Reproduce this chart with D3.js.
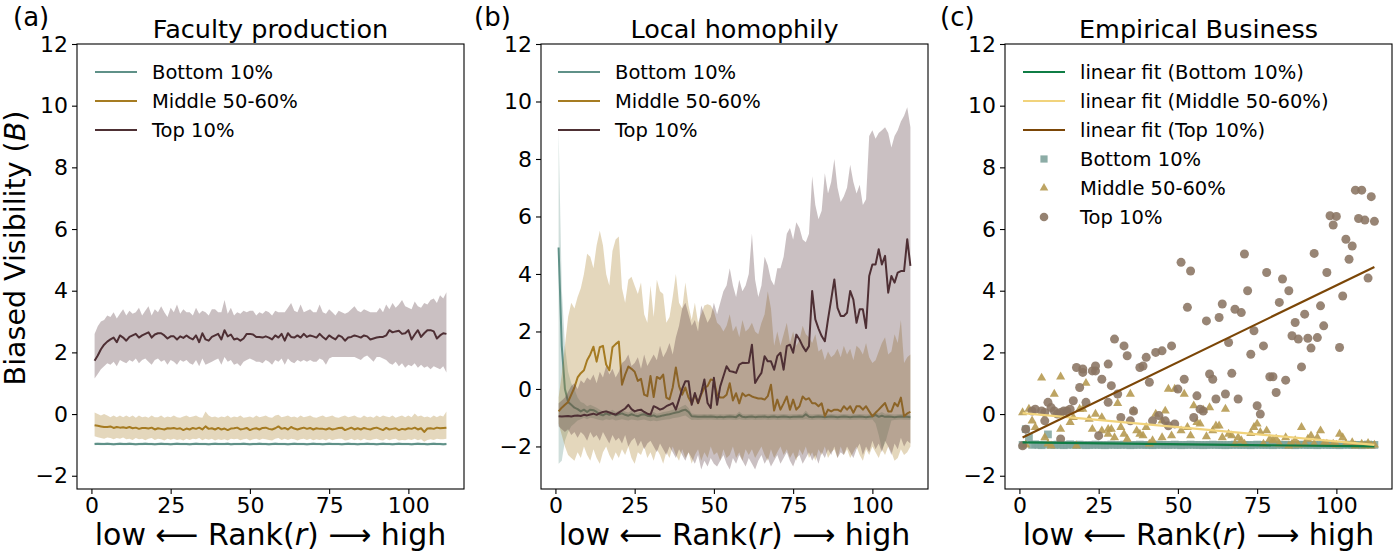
<!DOCTYPE html>
<html><head><meta charset="utf-8">
<script src="https://cdnjs.cloudflare.com/ajax/libs/d3/7.8.5/d3.min.js"></script>
<style>body{margin:0;background:#fff} svg{display:block} text{font-family:"DejaVu Sans",sans-serif;fill:#000}</style>
</head><body><svg id="chart" width="1394" height="555"></svg>
<script>
// ---------- DATA (x = rank 1..112) ----------
const xTicks = [0, 25, 50, 75, 100];
const yTicks = [-2, 0, 2, 4, 6, 8, 10, 12];
const seriesNames = ["Bottom 10%", "Middle 50-60%", "Top 10%"];
const fitNames = ["linear fit (Bottom 10%)", "linear fit (Middle 50-60%)", "linear fit (Top 10%)"];

// Panel (a) Faculty production
const aTopM = [1.73,1.90,2.10,2.25,2.35,2.42,2.48,2.33,2.55,2.48,
 2.38,2.50,2.55,2.60,2.48,2.55,2.60,2.65,2.48,2.58,
 2.62,2.62,2.55,2.45,2.52,2.52,2.42,2.52,2.47,2.55,
 2.47,2.42,2.55,2.33,2.62,2.42,2.38,2.50,2.55,2.60,
 2.42,2.72,2.52,2.58,2.42,2.45,2.38,2.45,2.60,2.60,
 2.58,2.50,2.50,2.48,2.52,2.48,2.42,2.55,2.48,2.60,
 2.38,2.62,2.50,2.48,2.55,2.48,2.60,2.50,2.55,2.52,
 2.48,2.60,2.50,2.42,2.55,2.48,2.42,2.55,2.50,2.38,
 2.48,2.50,2.55,2.52,2.48,2.55,2.52,2.42,2.45,2.48,
 2.50,2.50,2.55,2.72,2.65,2.68,2.70,2.60,2.62,2.72,
 2.42,2.58,2.72,2.50,2.62,2.72,2.72,2.68,2.45,2.55,
 2.62,2.60];
const aTopH = [2.60,2.85,3.00,3.05,3.20,3.15,3.30,3.10,3.25,3.40,
 3.20,3.35,3.25,3.30,3.45,3.20,3.35,3.50,3.20,3.40,
 3.30,3.50,3.30,3.15,3.45,3.30,3.55,3.25,3.40,3.30,
 3.30,3.20,3.45,3.25,3.35,3.30,3.20,3.40,3.40,3.30,
 3.30,3.70,3.25,3.45,3.20,3.30,3.25,3.35,3.30,3.35,
 3.35,3.20,3.30,3.25,3.35,3.30,3.20,3.35,3.30,3.30,
 3.30,3.45,3.60,3.35,3.30,3.55,3.30,3.35,3.40,3.30,
 3.30,3.55,3.30,3.25,3.40,3.30,3.20,3.35,3.30,3.25,
 3.30,3.40,3.50,3.35,3.30,3.40,3.35,3.30,3.30,3.30,
 3.45,3.30,3.55,3.40,3.60,3.45,3.55,3.70,3.50,3.45,
 3.40,3.65,3.50,3.45,3.60,3.55,3.70,3.75,3.60,3.85,
 3.75,3.95];
const aTopL = [1.15,1.30,1.45,1.55,1.65,1.60,1.70,1.55,1.75,1.70,
 1.65,1.75,1.70,1.80,1.65,1.75,1.80,1.70,1.60,1.75,
 1.80,1.70,1.75,1.60,1.75,1.70,1.60,1.75,1.70,1.75,
 1.65,1.60,1.75,1.55,1.80,1.60,1.65,1.70,1.75,1.80,
 1.60,1.85,1.70,1.75,1.60,1.65,1.55,1.70,1.75,1.80,
 1.75,1.70,1.70,1.65,1.75,1.70,1.60,1.75,1.70,1.80,
 1.60,1.80,1.70,1.65,1.75,1.70,1.75,1.70,1.75,1.70,
 1.70,1.80,1.75,1.60,1.80,1.85,1.85,1.85,1.85,1.85,
 1.85,1.85,1.85,1.80,1.75,1.85,1.90,1.80,1.70,1.85,
 1.85,1.80,1.75,1.65,1.60,1.70,1.55,1.65,1.50,1.60,
 1.55,1.65,1.50,1.60,1.50,1.55,1.45,1.55,1.50,1.45,
 1.55,1.35];
const aMidM = [-0.36,-0.38,-0.40,-0.42,-0.42,-0.40,-0.45,-0.42,-0.44,-0.43,
 -0.45,-0.42,-0.46,-0.44,-0.48,-0.45,-0.45,-0.47,-0.44,-0.50,
 -0.46,-0.48,-0.50,-0.46,-0.47,-0.45,-0.48,-0.46,-0.52,-0.47,
 -0.50,-0.45,-0.48,-0.44,-0.50,-0.40,-0.48,-0.46,-0.50,-0.45,
 -0.50,-0.47,-0.52,-0.47,-0.46,-0.44,-0.50,-0.48,-0.45,-0.52,
 -0.48,-0.46,-0.50,-0.45,-0.44,-0.48,-0.50,-0.46,-0.40,-0.48,
 -0.45,-0.50,-0.42,-0.47,-0.50,-0.47,-0.44,-0.48,-0.45,-0.50,
 -0.46,-0.48,-0.48,-0.50,-0.46,-0.50,-0.48,-0.45,-0.44,-0.52,
 -0.48,-0.44,-0.50,-0.46,-0.50,-0.45,-0.48,-0.50,-0.46,-0.44,
 -0.48,-0.52,-0.45,-0.50,-0.48,-0.46,-0.52,-0.48,-0.50,-0.46,
 -0.48,-0.44,-0.50,-0.46,-0.58,-0.47,-0.46,-0.48,-0.44,-0.46,
 -0.45,-0.44];
const aMidH = [0.05,0.00,-0.05,0.00,-0.05,-0.10,-0.05,-0.10,-0.05,-0.10,
 -0.05,-0.10,-0.05,-0.12,-0.05,-0.10,-0.08,-0.12,-0.05,-0.10,
 -0.10,-0.05,-0.12,-0.08,-0.10,-0.05,-0.10,-0.12,-0.08,-0.05,
 -0.10,-0.08,-0.05,-0.10,-0.12,0.08,-0.05,-0.10,-0.08,-0.12,
 -0.08,-0.10,-0.05,-0.12,-0.08,-0.10,-0.05,-0.12,-0.10,-0.08,
 -0.12,-0.05,-0.10,-0.08,-0.05,-0.10,-0.12,-0.05,-0.02,-0.10,
 -0.08,-0.05,-0.10,-0.08,-0.12,-0.05,-0.10,-0.08,-0.05,-0.10,
 -0.12,-0.08,-0.05,-0.10,-0.08,-0.05,-0.10,-0.12,-0.08,-0.05,
 -0.10,-0.08,-0.05,-0.10,-0.12,-0.05,-0.10,-0.08,-0.12,-0.05,
 -0.10,-0.05,-0.08,-0.10,-0.05,-0.12,-0.08,-0.05,-0.10,-0.05,
 -0.10,0.02,-0.08,-0.05,-0.10,-0.08,-0.12,-0.05,-0.10,-0.05,
 -0.08,0.08];
const aMidL = [-0.72,-0.75,-0.78,-0.80,-0.76,-0.78,-0.82,-0.78,-0.80,-0.76,
 -0.82,-0.80,-0.84,-0.78,-0.82,-0.80,-0.85,-0.80,-0.78,-0.84,
 -0.80,-0.82,-0.86,-0.80,-0.83,-0.80,-0.84,-0.82,-0.86,-0.80,
 -0.84,-0.80,-0.82,-0.78,-0.85,-0.80,-0.83,-0.80,-0.86,-0.82,
 -0.84,-0.82,-0.86,-0.80,-0.82,-0.80,-0.85,-0.82,-0.80,-0.86,
 -0.82,-0.80,-0.84,-0.80,-0.82,-0.84,-0.86,-0.80,-0.78,-0.84,
 -0.80,-0.84,-0.80,-0.82,-0.86,-0.82,-0.80,-0.84,-0.80,-0.85,
 -0.82,-0.84,-0.82,-0.86,-0.80,-0.85,-0.82,-0.80,-0.80,-0.86,
 -0.84,-0.80,-0.85,-0.82,-0.86,-0.80,-0.84,-0.85,-0.82,-0.80,
 -0.84,-0.86,-0.80,-0.85,-0.82,-0.80,-0.86,-0.84,-0.85,-0.82,
 -0.84,-0.80,-0.85,-0.82,-0.90,-0.84,-0.82,-0.84,-0.80,-0.82,
 -0.82,-0.80];
const aBotM = [-0.97,-0.96,-0.97,-0.97,-0.96,-0.97,-0.98,-0.97,-0.96,-0.97,
 -0.97,-0.96,-0.97,-0.98,-0.97,-0.97,-0.96,-0.97,-0.97,-0.98,
 -0.97,-0.96,-0.97,-0.97,-0.98,-0.97,-0.96,-0.97,-0.97,-0.97,
 -0.98,-0.97,-0.96,-0.97,-0.97,-0.97,-0.98,-0.97,-0.96,-0.97,
 -0.97,-0.97,-0.96,-0.98,-0.97,-0.97,-0.97,-0.96,-0.97,-0.98,
 -0.97,-0.97,-0.96,-0.97,-0.97,-0.98,-0.97,-0.96,-0.97,-0.97,
 -0.97,-0.98,-0.97,-0.96,-0.97,-0.97,-0.97,-0.98,-0.97,-0.96,
 -0.97,-0.97,-0.98,-0.97,-0.96,-0.97,-0.97,-0.97,-0.98,-0.97,
 -0.96,-0.97,-0.97,-0.98,-0.97,-0.97,-0.96,-0.97,-0.97,-0.98,
 -0.97,-0.96,-0.97,-0.97,-0.98,-0.97,-0.96,-0.97,-0.97,-0.97,
 -0.98,-0.97,-0.96,-0.97,-0.97,-0.98,-0.97,-0.96,-0.97,-0.97,
 -0.98,-0.97];
const aBotH = [-0.92,-0.93,-0.92,-0.93,-0.92,-0.93,-0.94,-0.93,-0.92,-0.93,
 -0.93,-0.92,-0.93,-0.94,-0.93,-0.92,-0.92,-0.93,-0.93,-0.94,
 -0.93,-0.92,-0.93,-0.93,-0.94,-0.93,-0.92,-0.93,-0.93,-0.93,
 -0.94,-0.93,-0.92,-0.93,-0.93,-0.93,-0.94,-0.93,-0.92,-0.93,
 -0.93,-0.93,-0.92,-0.94,-0.93,-0.93,-0.93,-0.92,-0.93,-0.94,
 -0.93,-0.93,-0.92,-0.93,-0.93,-0.94,-0.93,-0.92,-0.93,-0.93,
 -0.93,-0.94,-0.93,-0.92,-0.93,-0.93,-0.93,-0.94,-0.93,-0.92,
 -0.93,-0.93,-0.94,-0.93,-0.92,-0.93,-0.93,-0.93,-0.94,-0.93,
 -0.92,-0.93,-0.93,-0.94,-0.93,-0.93,-0.92,-0.93,-0.93,-0.94,
 -0.93,-0.92,-0.93,-0.93,-0.94,-0.93,-0.92,-0.93,-0.93,-0.93,
 -0.94,-0.93,-0.92,-0.93,-0.93,-0.94,-0.93,-0.92,-0.93,-0.93,
 -0.94,-0.93];
const aBotL = [-1.01,-1.00,-1.01,-1.01,-1.00,-1.01,-1.02,-1.01,-1.00,-1.01,
 -1.01,-1.00,-1.01,-1.02,-1.01,-1.01,-1.00,-1.01,-1.01,-1.02,
 -1.01,-1.00,-1.01,-1.01,-1.02,-1.01,-1.00,-1.01,-1.01,-1.01,
 -1.02,-1.01,-1.00,-1.01,-1.01,-1.01,-1.02,-1.01,-1.00,-1.01,
 -1.01,-1.01,-1.00,-1.02,-1.01,-1.01,-1.01,-1.00,-1.01,-1.02,
 -1.01,-1.01,-1.00,-1.01,-1.01,-1.02,-1.01,-1.00,-1.01,-1.01,
 -1.01,-1.02,-1.01,-1.00,-1.01,-1.01,-1.01,-1.02,-1.01,-1.00,
 -1.01,-1.01,-1.02,-1.01,-1.00,-1.01,-1.01,-1.01,-1.02,-1.01,
 -1.00,-1.01,-1.01,-1.02,-1.01,-1.01,-1.00,-1.01,-1.01,-1.02,
 -1.01,-1.00,-1.01,-1.01,-1.02,-1.01,-1.00,-1.01,-1.01,-1.01,
 -1.02,-1.01,-1.00,-1.01,-1.01,-1.02,-1.01,-1.00,-1.01,-1.01,
 -1.02,-1.01];

// Panel (b) Local homophily
const bTopM = [-0.95,-0.96,-0.95,-0.94,-0.96,-0.93,-0.92,-0.94,-0.90,-0.92,
 -0.89,-0.86,-0.90,-0.84,-0.80,-0.78,-0.82,-0.86,-0.89,-0.82,
 -0.75,-0.68,-0.55,-0.70,-0.78,-0.74,-0.72,-0.80,-0.86,-0.89,
 -0.60,-0.65,-0.72,-0.68,-0.60,-0.55,-0.49,-0.72,-0.37,0.00,
 0.27,0.27,-0.55,-0.14,-0.49,-0.14,0.33,-0.49,-0.66,0.39,
 -0.55,0.09,0.44,0.79,0.62,0.60,0.56,0.85,0.91,0.90,
 0.91,1.54,0.21,0.40,0.56,1.14,0.96,0.96,0.67,1.14,
 1.26,0.67,1.49,1.54,1.26,1.89,1.72,1.49,1.31,1.49,
 3.41,2.42,2.10,1.84,1.66,2.42,3.11,3.81,2.82,2.54,
 2.54,2.65,3.41,3.11,2.30,2.77,2.77,2.12,3.93,4.33,
 4.33,4.86,4.33,4.63,3.35,3.93,3.70,4.05,4.10,4.10,
 5.21,4.28];
const bTopH = [-0.5,-0.4,-0.3,-0.1,0.1,0.2,0.0,0.3,0.2,0.4,
 0.3,0.5,0.2,0.6,0.4,0.8,0.5,0.7,0.4,0.6,
 0.9,1.0,1.2,0.8,0.9,1.1,0.7,1.2,0.8,1.0,
 1.2,1.0,1.5,1.1,1.3,1.6,1.2,1.8,2.2,2.8,
 3.0,2.6,2.2,2.4,2.0,2.9,2.6,2.3,2.5,3.0,
 2.6,3.0,3.4,3.6,4.2,3.6,3.2,3.8,3.4,3.6,
 4.0,5.4,3.8,3.2,3.6,4.6,4.3,3.8,3.6,4.2,
 4.2,4.6,5.4,5.6,5.2,5.8,5.6,5.2,5.1,5.4,
 7.4,6.4,5.9,6.2,7.5,6.8,7.2,8.0,7.0,6.5,
 6.7,7.0,7.8,7.2,6.8,7.1,6.4,6.6,8.8,9.0,
 8.7,8.9,9.0,9.1,8.9,8.4,8.8,9.0,9.3,9.5,
 9.8,9.1];
const bTopL = [-1.3,-1.4,-1.5,-1.4,-1.6,-1.5,-1.7,-1.5,-1.6,-1.8,
 -1.5,-1.7,-1.6,-1.8,-1.5,-1.7,-1.9,-1.6,-1.8,-1.7,
 -1.9,-1.6,-2.0,-1.8,-1.7,-2.0,-1.8,-2.1,-1.9,-1.8,
 -2.0,-2.2,-1.9,-2.1,-2.3,-2.0,-2.2,-2.4,-2.1,-2.3,
 -2.5,-2.2,-2.4,-2.6,-2.3,-2.8,-2.5,-2.7,-2.4,-2.6,
 -2.7,-2.5,-2.3,-2.6,-2.8,-2.4,-2.6,-2.3,-2.5,-2.7,
 -2.4,-2.6,-2.8,-2.5,-2.3,-2.6,-2.4,-2.7,-2.5,-2.3,
 -2.6,-2.4,-2.2,-2.5,-2.7,-2.4,-2.3,-2.6,-2.4,-2.2,
 -2.5,-2.3,-2.6,-2.2,-2.4,-2.1,-2.3,-2.0,-2.4,-2.2,
 -2.3,-2.0,-2.2,-2.4,-2.1,-1.9,-2.3,-2.0,-2.2,-1.8,
 -2.1,-1.9,-2.2,-1.8,-2.0,-2.3,-1.9,-2.1,-1.7,-2.0,
 -1.8,-1.9];
const bMidM = [-0.78,-0.65,-0.55,-0.45,-0.20,0.05,0.40,0.55,0.65,1.00,
 1.20,1.47,0.95,1.45,1.50,0.85,0.65,1.45,1.56,1.65,
 0.15,0.50,0.78,0.70,0.60,0.28,0.35,-0.20,-0.25,0.45,
 -0.28,0.42,0.35,0.50,-0.30,-0.36,0.05,0.75,0.10,-0.20,
 0.05,-0.30,-0.50,-0.20,-0.50,-0.20,0.05,0.10,0.33,0.30,
 -0.20,-0.30,-0.30,-0.20,0.20,-0.40,-0.15,-0.50,-0.15,-0.25,
 -0.20,-0.26,-0.30,-0.33,-0.33,-0.37,-0.25,0.15,-0.75,-0.37,
 -0.72,-0.50,-0.26,-0.72,-0.37,-0.72,-0.60,-0.26,-0.37,-0.32,
 -0.50,-0.50,-0.60,-0.50,-0.95,-0.72,-0.78,-0.72,-0.72,-0.78,
 -0.60,-0.72,-0.60,-0.83,-0.60,-0.60,-0.72,-0.60,-0.78,-0.95,
 -0.83,-0.72,-0.60,-0.49,-0.78,-0.78,-0.49,-0.60,-0.30,-0.95,
 -0.85,-0.80];
const bMidH = [-0.30,0.50,1.50,2.50,3.00,2.80,3.20,3.50,4.00,4.70,
 4.60,4.20,5.00,5.50,5.00,4.00,3.60,4.80,5.20,5.30,
 3.50,3.00,3.80,3.90,3.60,3.30,3.70,2.60,2.30,3.60,
 2.50,3.80,3.40,3.30,2.30,2.50,3.20,4.00,3.00,2.80,
 3.70,2.90,2.40,3.00,2.30,2.60,2.90,2.95,2.90,2.70,
 2.30,2.20,2.00,2.20,2.60,2.00,2.20,1.80,2.40,2.00,
 2.10,2.30,2.00,1.90,2.30,2.60,3.40,2.80,1.50,2.00,
 1.50,1.90,2.30,1.60,2.00,1.50,1.70,2.20,1.90,1.80,
 1.60,1.90,1.30,1.40,1.00,1.30,1.10,1.20,1.40,1.10,
 1.50,1.20,1.40,1.00,1.50,1.40,1.20,1.60,1.10,0.90,
 1.00,1.30,1.60,1.80,1.20,1.30,1.90,1.60,2.40,0.90,
 1.10,1.20];
const bMidL = [-1.2,-1.6,-2.0,-2.3,-2.4,-2.5,-2.2,-2.4,-2.0,-2.3,
 -2.5,-2.1,-2.4,-2.6,-2.2,-2.0,-2.3,-2.5,-2.2,-2.4,
 -2.1,-2.3,-2.0,-2.4,-2.6,-2.2,-2.3,-2.0,-2.4,-2.2,
 -2.5,-2.1,-2.3,-2.6,-2.2,-2.4,-2.0,-2.3,-2.5,-2.1,
 -2.4,-2.2,-2.6,-2.3,-2.1,-2.5,-2.2,-2.4,-2.0,-2.3,
 -2.2,-2.5,-2.1,-2.4,-2.3,-2.0,-2.4,-2.2,-2.5,-2.1,
 -2.3,-2.1,-2.4,-2.2,-2.0,-2.3,-2.5,-2.1,-2.4,-2.2,
 -2.0,-2.3,-2.1,-2.4,-2.2,-2.5,-2.1,-2.3,-2.0,-2.4,
 -2.2,-2.5,-2.1,-2.3,-2.0,-2.4,-2.2,-2.1,-2.4,-2.0,
 -2.3,-2.1,-2.4,-2.2,-2.0,-2.3,-2.5,-2.1,-2.3,-2.0,
 -2.2,-2.4,-2.1,-2.3,-2.0,-2.2,-2.5,-2.4,-2.1,-2.3,
 -2.2,-2.0];
const bBotM = [4.92,1.50,0.00,-0.45,-0.55,-0.65,-0.70,-0.78,-0.72,-0.80,
 -0.72,-0.74,-0.80,-0.88,-0.92,-0.85,-0.90,-0.85,-0.92,-0.88,
 -0.85,-0.90,-0.93,-0.88,-0.92,-0.95,-0.90,-0.88,-0.93,-0.95,
 -0.92,-0.97,-0.95,-0.92,-0.90,-0.88,-0.85,-0.82,-0.80,-0.75,
 -0.72,-0.80,-0.95,-0.96,-0.97,-0.97,-0.96,-0.97,-0.96,-0.97,
 -0.98,-0.97,-0.98,-0.97,-0.96,-0.97,-0.98,-0.90,-0.97,-0.98,
 -0.97,-0.96,-0.98,-0.97,-0.97,-0.96,-0.98,-0.97,-0.96,-0.98,
 -0.97,-0.96,-0.97,-0.98,-0.97,-0.97,-0.96,-0.97,-0.88,-0.97,
 -0.98,-0.97,-0.96,-0.97,-0.98,-0.97,-0.96,-0.97,-0.98,-0.97,
 -0.96,-0.97,-0.98,-0.97,-0.97,-0.96,-0.97,-0.98,-0.97,-0.96,
 -0.90,-0.97,-0.93,-0.97,-0.96,-0.97,-0.98,-0.97,-0.96,-0.97,
 -0.97,-0.98];
const bBotH = [9.00,3.50,1.50,0.60,0.20,0.00,-0.30,-0.45,-0.50,-0.60,
 -0.55,-0.60,-0.65,-0.72,-0.78,-0.72,-0.78,-0.72,-0.80,-0.76,
 -0.72,-0.78,-0.82,-0.76,-0.80,-0.84,-0.78,-0.76,-0.82,-0.84,
 -0.80,-0.86,-0.84,-0.80,-0.78,-0.76,-0.72,-0.70,-0.66,-0.60,
 -0.55,-0.66,-0.85,-0.87,-0.88,-0.88,-0.87,-0.88,-0.87,-0.88,
 -0.89,-0.88,-0.89,-0.88,-0.87,-0.88,-0.89,-0.78,-0.88,-0.89,
 -0.88,-0.87,-0.89,-0.88,-0.88,-0.87,-0.89,-0.88,-0.87,-0.89,
 -0.88,-0.87,-0.88,-0.89,-0.88,-0.88,-0.87,-0.88,-0.75,-0.88,
 -0.89,-0.88,-0.87,-0.88,-0.89,-0.88,-0.87,-0.88,-0.89,-0.88,
 -0.87,-0.88,-0.89,-0.88,-0.88,-0.87,-0.88,-0.89,-0.88,-0.87,
 -0.78,-0.85,-0.80,-0.86,-0.85,-0.88,-0.89,-0.88,-0.87,-0.88,
 -0.88,-0.89];
const bBotL = [-2.60,-2.50,-1.80,-1.50,-1.30,-1.20,-1.10,-1.05,-1.00,-1.05,
 -1.00,-1.02,-1.05,-1.08,-1.10,-1.05,-1.08,-1.05,-1.10,-1.08,
 -1.05,-1.08,-1.10,-1.06,-1.08,-1.10,-1.08,-1.06,-1.10,-1.12,
 -1.10,-1.12,-1.10,-1.08,-1.06,-1.05,-1.02,-1.00,-0.98,-0.95,
 -0.92,-1.00,-1.08,-1.07,-1.08,-1.07,-1.06,-1.07,-1.06,-1.07,
 -1.08,-1.07,-1.08,-1.07,-1.06,-1.07,-1.08,-1.05,-1.07,-1.08,
 -1.07,-1.06,-1.08,-1.07,-1.07,-1.06,-1.08,-1.07,-1.06,-1.08,
 -1.07,-1.06,-1.07,-1.08,-1.07,-1.07,-1.06,-1.07,-1.05,-1.07,
 -1.08,-1.07,-1.06,-1.07,-1.08,-1.07,-1.06,-1.07,-1.08,-1.07,
 -1.06,-1.07,-1.08,-1.07,-1.07,-1.06,-1.07,-1.08,-1.07,-1.06,
 -1.20,-1.60,-2.10,-1.90,-1.50,-1.10,-1.08,-1.07,-1.06,-1.07,
 -1.07,-1.08];

// Panel (c) Empirical Business — scatter
const cTopX = [1,2,4,5,7,8,8,9,10,11,
 12,13,13,14,15,16,17,18,19,20,
 20,21,23,24,24,25,26,28,28,29,
 30,31,32,33,34,35,36,38,39,40,
 41,42,43,44,45,46,47,48,49,50,
 51,52,53,54,55,56,57,58,59,60,
 61,62,63,64,65,66,67,68,69,70,
 71,72,73,74,75,76,77,78,79,80,
 81,82,83,84,85,86,87,88,89,90,
 91,92,93,94,95,96,97,98,99,100,
 101,102,103,104,105,106,107,108,109,110,
 111,112];
const cTopY = [-1.03,-0.49,0.10,0.16,0.10,0.05,-0.22,0.38,0.21,0.10,
 0.00,-0.81,0.05,0.10,0.10,0.16,0.43,1.51,0.86,1.35,
 1.46,0.38,1.40,1.40,1.56,-0.70,1.13,1.62,0.38,0.92,
 2.43,0.65,-0.11,2.21,1.89,-0.22,0.10,1.51,1.56,1.84,
 1.03,-0.22,2.00,-0.05,2.05,-0.22,-0.38,2.21,-0.32,0.81,
 4.92,1.13,3.46,4.64,-0.11,0.59,0.16,0.10,3.02,1.30,
 1.13,0.49,3.13,3.57,0.65,2.32,1.32,3.40,0.49,3.29,
 5.19,4.00,1.94,2.70,0.27,0.00,2.21,4.59,1.21,1.21,
 0.70,3.62,4.38,1.10,4.00,2.54,2.97,2.43,1.53,3.24,
 2.46,2.14,5.21,2.48,3.51,2.86,4.59,6.43,6.13,6.41,
 2.16,3.83,5.67,5.02,5.45,7.26,6.34,7.26,6.29,4.41,
 7.05,6.25];
const cMidX = [1,2,3,4,5,7,8,9,10,11,13,13,15,16,17,18,19,20,21,22,
 23,24,26,26,28,28,29,30,31,32,33,34,35,36,37,38,39,40,41,42,
 43,45,45,46,47,48,49,51,52,53,54,55,56,57,58,59,60,61,62,63,
 64,65,66,67,68,69,70,71,73,74,75,76,77,78,79,80,81,82,84,85,
 86,87,88,89,90,91,92,93,94,95,96,97,99,100,101,102,103,105,106,108,
 109,110,111,112];
const cMidY = [0.05,-1.00,0.16,-0.22,-0.43,1.17,-0.76,-0.97,-1.03,0.65,1.21,-0.49,0.10,-0.27,-0.11,-1.03,0.16,0.16,1.00,-0.16,
 -0.49,0.00,-0.54,-0.11,-0.65,-0.49,-0.49,-0.76,0.35,-0.43,-0.65,-0.81,0.65,0.10,-0.54,-0.65,-0.70,-0.43,-0.97,-0.86,
 0.00,-0.22,-0.76,0.10,0.81,-0.70,0.81,-0.54,0.65,-0.43,-0.70,0.27,-0.27,-0.32,0.13,-0.73,0.21,-0.54,-0.38,-0.38,
 -0.76,0.16,-0.65,-0.70,-0.97,-0.76,-0.86,-0.97,-0.63,-0.43,-0.32,-0.59,-0.97,-0.54,-0.81,-0.86,-0.81,-0.97,-0.76,-1.03,
 -0.97,-0.86,-1.00,-0.43,-0.97,-0.81,-0.70,-0.97,-0.76,-0.54,-0.97,-0.97,-0.97,-1.00,-0.65,-0.76,-0.97,-0.92,-1.03,-0.97,
 -1.03,-0.95,-1.03,-1.00];
const cBotY = [-1.00,-0.49,-0.76,-1.00,-0.98,-1.00,-1.01,-0.99,-0.66,-1.00,
 -1.00,-0.99,-1.00,-1.01,-1.00,-0.98,-1.00,-1.00,-0.99,-1.00,
 -1.01,-1.00,-1.00,-0.99,-1.00,-1.00,-1.01,-1.00,-0.99,-1.00,
 -1.00,-1.00,-0.99,-1.00,-1.01,-1.00,-1.00,-0.99,-1.00,-1.00,
 -1.00,-1.01,-1.00,-0.99,-1.00,-1.00,-1.00,-1.00,-0.99,-1.00,
 -1.01,-1.00,-1.00,-0.99,-1.00,-1.00,-1.00,-1.01,-1.00,-1.00,
 -0.99,-1.00,-1.00,-1.00,-1.01,-1.00,-1.00,-0.99,-1.00,-1.00,
 -1.00,-1.00,-1.01,-1.00,-0.99,-1.00,-1.00,-1.00,-1.00,-1.01,
 -1.00,-0.99,-1.00,-1.00,-1.00,-1.00,-1.01,-1.00,-0.99,-1.00,
 -1.00,-1.00,-1.00,-1.01,-1.00,-0.99,-1.00,-1.00,-1.00,-1.00,
 -1.01,-1.00,-0.99,-1.00,-1.00,-1.00,-1.00,-1.01,-1.00,-0.99,
 -1.00,-1.00];
// linear fits: value at rank 1 and at rank 112
const fitX = [1, 112];
const fitBotY = [-0.92, -1.05];
const fitMidY = [0.03, -1.00];
const fitTopY = [-0.76, 4.77];

// ---------- STYLE ----------
const colBot = "#5f9188", colMid = "#a67c22", colTop = "#4e3034";
const bandOpacity = 0.3;
const fitCols = ["#0f7d45", "#f1d37c", "#7b4607"];
const scatCols = ["#7fa39c", "#b69a52", "#8a7462"];
const TOP = 44, BOTTOM = 489;
const FONT = '"DejaVu Sans", sans-serif';

const svg = d3.select("#chart");
const panels = [
  {key:"a", left:77, right:464, yDom:[-2.43, 12.0], title:"Faculty production", label:"(a)", labelX:13},
  {key:"b", left:541, right:928, yDom:[-3.48, 12.0], title:"Local homophily", label:"(b)", labelX:474},
  {key:"c", left:1005, right:1392, yDom:[-2.43, 12.0], title:"Empirical Business", label:"(c)", labelX:940}
];
const fmt = d => d < 0 ? "\u2212" + Math.abs(d) : String(d);

panels.forEach(p => {
  p.x = d3.scaleLinear().domain([-4.55, 117.55]).range([p.left, p.right]);
  p.y = d3.scaleLinear().domain(p.yDom).range([BOTTOM, TOP]);
  const g = svg.append("g");
  svg.append("defs").append("clipPath").attr("id", "clip-" + p.key)
    .append("rect").attr("x", p.left).attr("y", TOP).attr("width", p.right - p.left).attr("height", BOTTOM - TOP);
  p.plot = g.append("g").attr("clip-path", `url(#clip-${p.key})`);
  p.g = g;
});

// bands + lines for (a) and (b)
function drawBandSeries(p, list) {
  list.forEach(s => {
    const line = d3.line().x((d, i) => p.x(i + 1)).y(d => p.y(d));
    p.plot.append("path").datum(s.m).attr("d", line)
      .attr("fill", "none").attr("stroke", s.c).attr("stroke-width", 2).attr("stroke-linejoin", "round");
    const area = d3.area().x((d, i) => p.x(i + 1)).y0((d, i) => p.y(s.l[i])).y1((d, i) => p.y(s.h[i]));
    p.plot.append("path").datum(s.m).attr("d", area).attr("fill", s.c).attr("fill-opacity", bandOpacity).attr("stroke", "none");
  });
}
drawBandSeries(panels[0], [
  {m:aBotM, l:aBotL, h:aBotH, c:colBot},
  {m:aMidM, l:aMidL, h:aMidH, c:colMid},
  {m:aTopM, l:aTopL, h:aTopH, c:colTop}
]);
drawBandSeries(panels[1], [
  {m:bBotM, l:bBotL, h:bBotH, c:colBot},
  {m:bMidM, l:bMidL, h:bMidH, c:colMid},
  {m:bTopM, l:bTopL, h:bTopH, c:colTop}
]);

// scatter + fits for (c)
(function () {
  const p = panels[2];
  const sq = d3.symbol().type(d3.symbolSquare).size(60);
  const tri = d3.symbol().type(d3.symbolTriangle).size(36);
  p.plot.append("g").selectAll("path").data(cBotY).join("path")
    .attr("d", sq).attr("transform", (d, i) => `translate(${p.x(i + 1)},${p.y(d)})`)
    .attr("fill", scatCols[0]).attr("fill-opacity", 0.85);
  p.plot.append("g").selectAll("path").data(cMidY).join("path")
    .attr("d", tri).attr("transform", (d, i) => `translate(${p.x(cMidX[i])},${p.y(d)})`)
    .attr("fill", scatCols[1]).attr("fill-opacity", 0.9);
  p.plot.append("g").selectAll("circle").data(cTopY).join("circle")
    .attr("cx", (d, i) => p.x(cTopX[i])).attr("cy", d => p.y(d)).attr("r", 4.5)
    .attr("fill", scatCols[2]).attr("fill-opacity", 0.88);
  const line = d3.line().x((d, i) => p.x(fitX[i])).y(d => p.y(d));
  [fitBotY, fitMidY, fitTopY].forEach((f, k) => {
    p.plot.append("path").datum(f).attr("d", line).attr("fill", "none")
      .attr("stroke", fitCols[k]).attr("stroke-width", 2.2);
  });
})();

// axes, frame, titles
panels.forEach(p => {
  const ax = p.g.append("g").attr("transform", `translate(${p.left},0)`)
    .call(d3.axisLeft(p.y).tickValues(yTicks).tickFormat(fmt).tickSize(5).tickPadding(4));
  const bx = p.g.append("g").attr("transform", `translate(0,${BOTTOM})`)
    .call(d3.axisBottom(p.x).tickValues(xTicks).tickFormat(fmt).tickSize(5).tickPadding(3));
  [ax, bx].forEach(a => {
    a.select(".domain").remove();
    a.selectAll("line").attr("stroke", "#000").attr("stroke-width", 1.1);
    a.selectAll("text").attr("font-family", FONT).attr("font-size", 22).attr("fill", "#000");
  });
  p.g.append("rect").attr("x", p.left).attr("y", TOP).attr("width", p.right - p.left).attr("height", BOTTOM - TOP)
    .attr("fill", "none").attr("stroke", "#000").attr("stroke-width", 1.1);
  p.g.append("text").attr("x", (p.left + p.right) / 2).attr("y", 37.5).attr("text-anchor", "middle")
    .attr("font-size", 25.5).text(p.title);
  p.g.append("text").attr("x", p.labelX).attr("y", 26).attr("font-size", 26).text(p.label);
  const xl = p.g.append("text").attr("x", (p.left + p.right) / 2).attr("y", 545).attr("text-anchor", "middle")
    .attr("font-size", 30);
  xl.append("tspan").text("low \u27F5 Rank(");
  xl.append("tspan").attr("font-style", "italic").text("r");
  xl.append("tspan").text(") \u27F6 high");
});

// y label
const yl = svg.append("text").attr("transform", "translate(25,248) rotate(-90)")
  .attr("text-anchor", "middle").attr("font-size", 28.5);
yl.append("tspan").text("Biased Visibility (");
yl.append("tspan").attr("font-style", "italic").text("B");
yl.append("tspan").text(")");

// legends (a),(b)
[[panels[0], 95], [panels[1], 558]].forEach(([p, lx]) => {
  const cols = [colBot, colMid, colTop];
  seriesNames.forEach((n, k) => {
    const cy = 72 + k * 29;
    p.g.append("line").attr("x1", lx).attr("x2", lx + 42).attr("y1", cy).attr("y2", cy)
      .attr("stroke", cols[k]).attr("stroke-width", 2);
    p.g.append("text").attr("x", lx + 57).attr("y", cy + 7).attr("font-size", 19.5).text(n);
  });
});
// legend (c)
(function () {
  const p = panels[2];
  fitNames.forEach((n, k) => {
    const cy = 72 + k * 29;
    p.g.append("line").attr("x1", 1023).attr("x2", 1065).attr("y1", cy).attr("y2", cy)
      .attr("stroke", fitCols[k]).attr("stroke-width", 2.2);
    p.g.append("text").attr("x", 1080).attr("y", cy + 7).attr("font-size", 19.5).text(n);
  });
  const syms = [d3.symbol().type(d3.symbolSquare).size(52)(), d3.symbol().type(d3.symbolTriangle).size(32)(), null];
  seriesNames.forEach((n, k) => {
    const cy = 159 + k * 29;
    if (k < 2) p.g.append("path").attr("d", syms[k]).attr("transform", `translate(1044,${cy})`)
      .attr("fill", scatCols[k]).attr("fill-opacity", 0.9);
    else p.g.append("circle").attr("cx", 1044).attr("cy", cy).attr("r", 4.3).attr("fill", scatCols[2]).attr("fill-opacity", 0.9);
    p.g.append("text").attr("x", 1080).attr("y", cy + 7).attr("font-size", 19.5).text(n);
  });
})();
</script></body></html>
